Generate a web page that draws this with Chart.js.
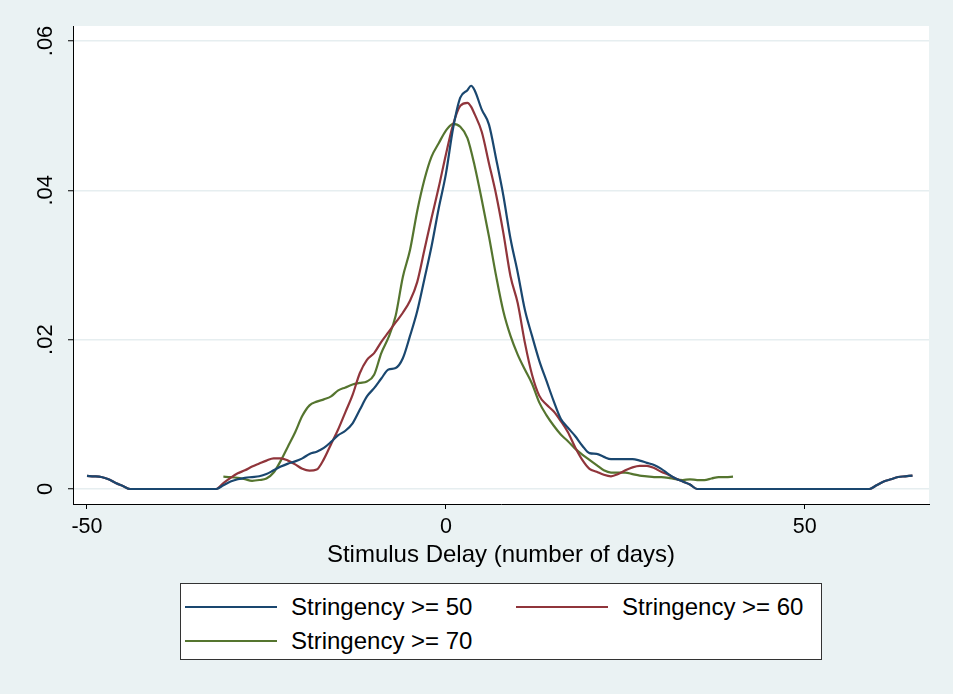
<!DOCTYPE html>
<html>
<head>
<meta charset="utf-8">
<script src="https://cdn.jsdelivr.net/npm/chart.js@4.4.1/dist/chart.umd.min.js"></script>
<style>
  html, body { margin: 0; padding: 0; background: rgb(234,242,243); }
  #wrap { position: relative; width: 953px; height: 694px; font-family: "Liberation Sans", Arial, Helvetica, sans-serif; }
  canvas { position: absolute; left: 0; top: 0; }
  #legend { position: absolute; left: 180px; top: 583px; width: 640px; height: 75px; background: #fff; border: 1px solid #333; box-sizing: content-box; }
  .item { position: absolute; height: 30px; display: flex; align-items: center; font-size: 24px; color: #000; white-space: nowrap; }
  .swatch { width: 92px; height: 2px; margin-right: 14px; }
</style>
</head>
<body>
<div id="wrap">
  <canvas id="c" width="953" height="694"></canvas>
  <div id="legend"></div>
</div>
<script>
// ---------------- data ----------------
const seriesLabels = ["Stringency >= 50", "Stringency >= 60", "Stringency >= 70"];
const seriesColors = ["rgb(26,71,111)", "rgb(144,53,59)", "rgb(85,117,47)"];

const xMain = [-50,-49,-48,-47,-46,-45,-44,
  -32,-31,-30,-29,-28,-27,-26,-25,-24,-23,-22,-21,-20,-19,-18,-17,-16,-15,-14,-13,-12,-11,-10,-9,-8,-7,-6,-5,-4,-3,-2,-1,
  0,1,2,3,3.5,4,5,6,7,8,9,10,11,12,13,14,15,16,17,18,19,20,21,22,23,24,25,26,27,28,29,30,31,32,33,34,35,
  59,60,61,62,63,64,65];

const y50 = [0.00175,0.0017,0.0016,0.0013,0.0008,0.0004,0,
  0,0.0005,0.001,0.0013,0.0015,0.0016,0.0017,0.002,0.0025,0.003,0.0034,0.0037,0.0041,0.0047,0.005,0.0055,0.0063,0.0072,0.0078,0.0088,0.0106,0.0124,0.0135,0.0148,0.016,0.0162,0.0175,0.0205,0.0238,0.0281,0.0325,0.0376,
  0.0422,0.0483,0.0524,0.0534,0.054,0.0534,0.0508,0.0488,0.0442,0.0393,0.0335,0.029,0.024,0.0205,0.0172,0.0145,0.0118,0.0094,0.0082,0.0071,0.0058,0.0048,0.0047,0.0043,0.004,0.004,0.004,0.004,0.0038,0.0035,0.0032,0.0027,0.002,0.0014,0.001,0.0006,0,
  0,0.0005,0.001,0.0013,0.0016,0.0017,0.0018];

const y60 = [0.00175,0.0017,0.0016,0.0013,0.0008,0.0004,0,
  0,0.0008,0.0015,0.0021,0.0025,0.003,0.0034,0.0038,0.0041,0.0041,0.0038,0.0033,0.0027,0.00245,0.0026,0.004,0.006,0.008,0.0103,0.0126,0.0155,0.0173,0.0182,0.0197,0.021,0.0223,0.0236,0.0252,0.0277,0.032,0.0363,0.0404,
  0.0448,0.0488,0.0513,0.0517,0.0512,0.0502,0.0478,0.0436,0.0394,0.0343,0.0285,0.0249,0.0196,0.0153,0.0125,0.0113,0.0104,0.0091,0.0076,0.0056,0.0039,0.0027,0.0023,0.0019,0.0017,0.002,0.0025,0.0029,0.0031,0.0031,0.0028,0.0023,0.0019,0.0014,0.001,0.0006,0,
  0,0.0005,0.001,0.0013,0.0016,0.0017,0.0018];

const x70 = [-31,-30,-29,-28,-27,-26,-25,-24,-23,-22,-21,-20,-19,-18,-17,-16,-15,-14,-13,-12,-11,-10,-9,-8,-7,-6,-5,-4,-3,-2,-1,
  0,1,2,3,4,5,6,7,8,9,10,11,12,13,14,15,16,17,18,19,20,21,22,23,24,25,26,27,28,29,30,31,32,33,34,35,36,37,38,39,40];
const y70 = [0.00165,0.0016,0.0015,0.0013,0.0011,0.0012,0.0014,0.0022,0.0038,0.0057,0.0076,0.0098,0.0112,0.0117,0.012,0.0124,0.0132,0.0136,0.014,0.0142,0.0144,0.0153,0.0182,0.0203,0.0232,0.0284,0.032,0.0372,0.0414,0.0445,0.0463,
  0.048,0.0489,0.0485,0.047,0.0433,0.0387,0.0338,0.0285,0.0238,0.0205,0.018,0.016,0.0141,0.0116,0.0099,0.0085,0.0073,0.0064,0.0054,0.0046,0.0039,0.0032,0.0025,0.0022,0.0022,0.0022,0.002,0.0018,0.0017,0.0016,0.0016,0.0015,0.0013,0.0012,0.0013,0.0012,0.0012,0.0014,0.0016,0.0016,0.00165];

const xTickValues = [-50, 0, 50];
const xTickLabels = ["-50", "0", "50"];
const yTickValues = [0, 0.02, 0.04, 0.06];
const yTickLabels = ["0", ".02", ".04", ".06"];
const xTitle = "Stimulus Delay (number of days)";

// ---------------- build ----------------
function pts(xs, ys) { return xs.map((x, i) => ({ x: x, y: ys[i] })); }
const seriesData = [pts(xMain, y50), pts(xMain, y60), pts(x70, y70)];

const FONT = "'Liberation Sans', Arial, Helvetica, sans-serif";

const bgPlugin = {
  id: 'bg',
  beforeDraw(chart) {
    const { ctx, chartArea: a } = chart;
    ctx.save();
    ctx.fillStyle = 'rgb(234,242,243)';
    ctx.fillRect(0, 0, chart.width, chart.height);
    ctx.fillStyle = '#ffffff';
    ctx.fillRect(a.left, a.top, a.right - a.left, a.bottom - a.top);
    ctx.restore();
  }
};

const yLabelPlugin = {
  id: 'ylabels',
  afterDraw(chart) {
    const { ctx } = chart;
    const ys = chart.scales.y;
    ctx.save();
    ctx.fillStyle = '#000';
    ctx.font = '22px ' + FONT;
    ctx.textAlign = 'center';
    ctx.textBaseline = 'alphabetic';
    yTickValues.forEach((v, i) => {
      const py = ys.getPixelForValue(v);
      ctx.save();
      ctx.translate(52, py);
      ctx.rotate(-Math.PI / 2);
      ctx.fillText(yTickLabels[i], 0, 0);
      ctx.restore();
    });
    ctx.restore();
  }
};

new Chart(document.getElementById('c'), {
  type: 'scatter',
  data: {
    datasets: seriesData.map((d, i) => ({
      label: seriesLabels[i],
      data: d,
      showLine: true,
      borderColor: seriesColors[i],
      backgroundColor: seriesColors[i],
      borderWidth: 2.2,
      pointRadius: 0,
      pointHoverRadius: 0,
      cubicInterpolationMode: 'monotone',
      fill: false
    }))
  },
  options: {
    responsive: false,
    animation: false,
    events: [],
    layout: { padding: { left: 0, top: 26, right: 24, bottom: 0 } },
    plugins: { legend: { display: false }, tooltip: { enabled: false } },
    scales: {
      x: {
        type: 'linear',
        min: -51.95,
        max: 67.3,
        afterBuildTicks: (s) => { s.ticks = xTickValues.map(v => ({ value: v })); },
        afterFit: (s) => { s.height = 190; },
        ticks: {
          color: '#000',
          font: { family: FONT, size: 21.5 },
          padding: 5,
          maxRotation: 0,
          callback: (v) => { const i = xTickValues.indexOf(v); return i >= 0 ? xTickLabels[i] : ''; }
        },
        grid: { drawOnChartArea: false, drawTicks: true, tickLength: 5, tickColor: '#000', tickWidth: 1 },
        border: { display: true, color: '#000', width: 1 },
        title: { display: true, text: xTitle, color: '#000', font: { family: FONT, size: 24 }, padding: { top: 0, bottom: 124 } }
      },
      y: {
        type: 'linear',
        min: -0.00201,
        max: 0.0620,
        afterBuildTicks: (s) => { s.ticks = yTickValues.map(v => ({ value: v })); },
        afterFit: (s) => { s.width = 73; },
        ticks: { display: false },
        grid: { drawOnChartArea: true, color: 'rgb(230,238,240)', lineWidth: 1.5, drawTicks: true, tickLength: 5, tickColor: '#000', tickWidth: 1 },
        border: { display: true, color: '#000', width: 1 }
      }
    }
  },
  plugins: [bgPlugin, yLabelPlugin]
});

// ---------------- legend (HTML text) ----------------
const legendPos = [[4, 8], [335, 8], [4, 42]];
const legend = document.getElementById('legend');
seriesLabels.forEach((lab, i) => {
  const it = document.createElement('div');
  it.className = 'item';
  it.style.left = legendPos[i][0] + 'px';
  it.style.top = legendPos[i][1] + 'px';
  const sw = document.createElement('span');
  sw.className = 'swatch';
  sw.style.background = seriesColors[i];
  const tx = document.createElement('span');
  tx.textContent = lab;
  it.appendChild(sw);
  it.appendChild(tx);
  legend.appendChild(it);
});
</script>
</body>
</html>
